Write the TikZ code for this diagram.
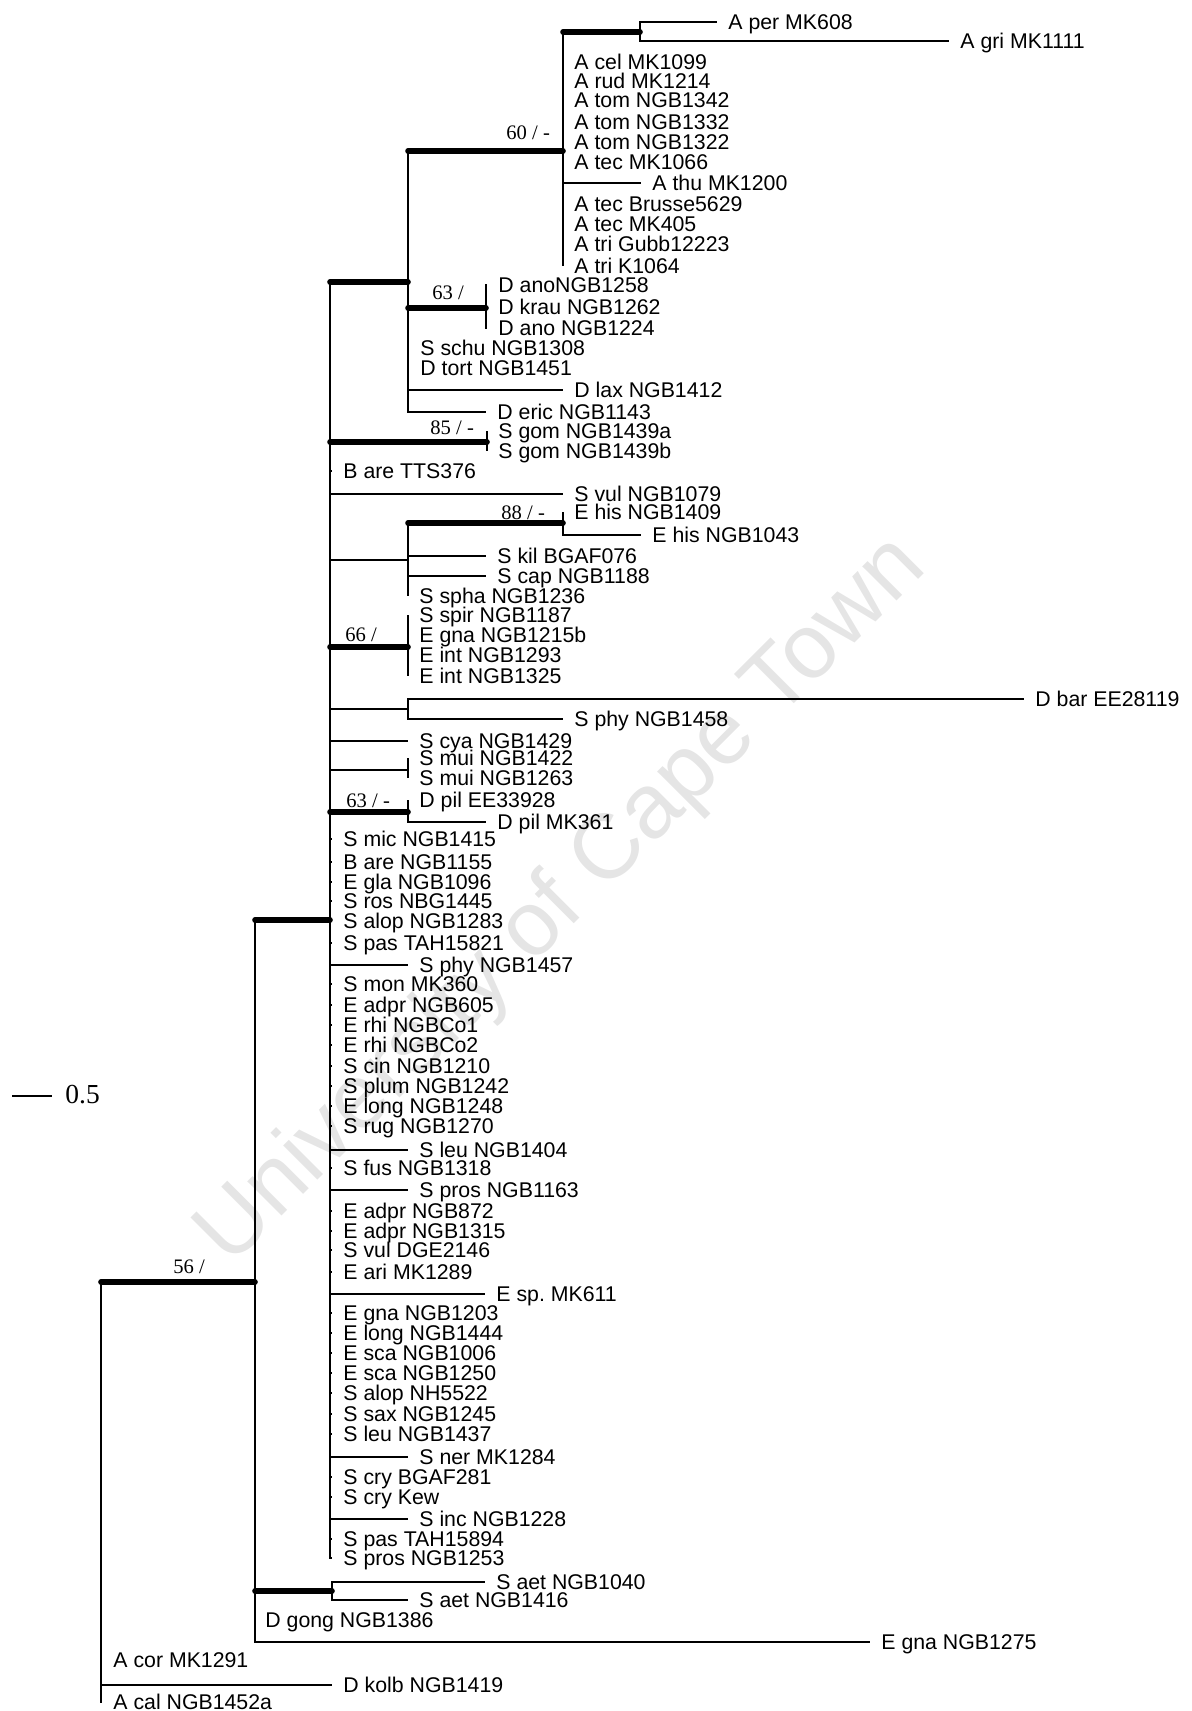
\documentclass[tikz,border=0pt]{standalone}
\usepackage{fontspec}
\setmainfont{Liberation Serif}
\setsansfont{Liberation Sans}
\usetikzlibrary{positioning}

\begin{document}
\begin{tikzpicture}[x=0.5pt,y=-0.5pt,
  br/.style={line width=0.9pt},
  thk/.style={line width=2.8pt,line cap=round},
  tx/.style={font=\sffamily\fontsize{10.65}{12}\selectfont,anchor=west,
    inner xsep=5.5pt,inner ysep=0pt,text height=7.6pt,text depth=0pt},
  bs/.style={font=\fontsize{10.3}{12}\selectfont,anchor=west,inner sep=0pt,
    text height=7pt,text depth=0pt}]
\useasboundingbox (0,0) rectangle (1191,1711);
\node[font=\sffamily\fontsize{45.8}{50}\selectfont,text=black!10,rotate=45,
  anchor=base west,inner sep=0pt] (wm) at (230,1268) {University of Cape Town};

\coordinate (r) at (101,1282);
\coordinate (n1) at (255,1282);
\coordinate (n2) at (330,920);
\coordinate (n3) at (408,282);
\coordinate (nA) at (563,151);
\coordinate (nper) at (640,32);
\coordinate (nano) at (486,308);
\coordinate (ngom) at (487,442);
\coordinate (n4) at (408,560);
\coordinate (nhis) at (563,523);
\coordinate (n66) at (408,647);
\coordinate (nbar) at (408,709);
\coordinate (nmui) at (408,770);
\coordinate (npil) at (408,812);
\coordinate (naet) at (332,1591);

\node[tx] (aper) at (717,22) {A per MK608};
\node[tx] (agri) at (949,41) {A gri MK1111};
\node[tx] (acel) at (563,62) {A cel MK1099};
\node[tx] (arud) at (563,81) {A rud MK1214};
\node[tx] (atom1) at (563,100) {A tom NGB1342};
\node[tx] (atom2) at (563,122) {A tom NGB1332};
\node[tx] (atom3) at (563,142) {A tom NGB1322};
\node[tx] (atec1) at (563,162) {A tec MK1066};
\node[tx] (athu) at (641,183) {A thu MK1200};
\node[tx] (atec2) at (563,204) {A tec Brusse5629};
\node[tx] (atec3) at (563,224) {A tec MK405};
\node[tx] (atri1) at (563,244) {A tri Gubb12223};
\node[tx] (atri2) at (563,266) {A tri K1064};

\node[tx] (dano1) at (487,285) {D anoNGB1258};
\node[tx] (dkrau) at (487,307) {D krau NGB1262};
\node[tx] (dano2) at (487,328) {D ano NGB1224};
\node[tx] (sschu) at (409,348) {S schu NGB1308};
\node[tx] (dtort) at (409,368) {D tort NGB1451};
\node[tx] (dlax) at (563,390) {D lax NGB1412};
\node[tx] (deric) at (486,412) {D eric NGB1143};
\node[tx] (sgom1) at (487,431) {S gom NGB1439a};
\node[tx] (sgom2) at (487,451) {S gom NGB1439b};

\node[tx] (bare1) at (332,471) {B are TTS376};
\node[tx] (svul1) at (563,494) {S vul NGB1079};
\node[tx] (ehis1) at (563,512) {E his NGB1409};
\node[tx] (ehis2) at (641,535) {E his NGB1043};
\node[tx] (skil) at (486,556) {S kil BGAF076};
\node[tx] (scap) at (486,576) {S cap NGB1188};
\node[tx] (sspha) at (408,596) {S spha NGB1236};
\node[tx] (sspir) at (408,615) {S spir NGB1187};
\node[tx] (egna1) at (408,635) {E gna NGB1215b};
\node[tx] (eint1) at (408,655) {E int NGB1293};
\node[tx] (eint2) at (408,676) {E int NGB1325};
\node[tx] (dbar) at (1024,699) {D bar EE28119};
\node[tx] (sphy1) at (563,719) {S phy NGB1458};
\node[tx] (scya) at (408,741) {S cya NGB1429};
\node[tx] (smui1) at (408,758) {S mui NGB1422};
\node[tx] (smui2) at (408,778) {S mui NGB1263};
\node[tx] (dpil1) at (408,800) {D pil EE33928};
\node[tx] (dpil2) at (486,822) {D pil MK361};
\node[tx] (smic) at (332,839) {S mic NGB1415};
\node[tx] (bare2) at (332,862) {B are NGB1155};
\node[tx] (egla) at (332,882) {E gla NGB1096};
\node[tx] (sros) at (332,901) {S ros NBG1445};
\node[tx] (salop1) at (332,921) {S alop NGB1283};
\node[tx] (spas1) at (332,943) {S pas TAH15821};
\node[tx] (sphy2) at (408,965) {S phy NGB1457};
\node[tx] (smon) at (332,984) {S mon MK360};
\node[tx] (eadpr1) at (332,1005) {E adpr NGB605};
\node[tx] (erhi1) at (332,1025) {E rhi NGBCo1};
\node[tx] (erhi2) at (332,1045) {E rhi NGBCo2};
\node[tx] (scin) at (332,1066) {S cin NGB1210};
\node[tx] (splum) at (332,1086) {S plum NGB1242};
\node[tx] (elong1) at (332,1106) {E long NGB1248};
\node[tx] (srug) at (332,1126) {S rug NGB1270};
\node[tx] (sleu1) at (408,1150) {S leu NGB1404};
\node[tx] (sfus) at (332,1168) {S fus NGB1318};
\node[tx] (spros1) at (408,1190) {S pros NGB1163};
\node[tx] (eadpr2) at (332,1211) {E adpr NGB872};
\node[tx] (eadpr3) at (332,1231) {E adpr NGB1315};
\node[tx] (svul2) at (332,1250) {S vul DGE2146};
\node[tx] (eari) at (332,1272) {E ari MK1289};
\node[tx] (esp) at (485,1294) {E sp.\ MK611};
\node[tx] (egna2) at (332,1313) {E gna NGB1203};
\node[tx] (elong2) at (332,1333) {E long NGB1444};
\node[tx] (esca1) at (332,1353) {E sca NGB1006};
\node[tx] (esca2) at (332,1373) {E sca NGB1250};
\node[tx] (salop2) at (332,1393) {S alop NH5522};
\node[tx] (ssax) at (332,1414) {S sax NGB1245};
\node[tx] (sleu2) at (332,1434) {S leu NGB1437};
\node[tx] (sner) at (408,1457) {S ner MK1284};
\node[tx] (scry1) at (332,1477) {S cry BGAF281};
\node[tx] (scry2) at (332,1497) {S cry Kew};
\node[tx] (sinc) at (408,1519) {S inc NGB1228};
\node[tx] (spas2) at (332,1539) {S pas TAH15894};
\node[tx] (spros2) at (332,1558) {S pros NGB1253};

\node[tx] (saet1) at (485,1582) {S aet NGB1040};
\node[tx] (saet2) at (408,1600) {S aet NGB1416};
\node[tx] (dgong) at (254,1620) {D gong NGB1386};
\node[tx] (egna3) at (870,1642) {E gna NGB1275};
\node[tx] (acor) at (102,1660) {A cor MK1291};
\node[tx] (dkolb) at (332,1685) {D kolb NGB1419};
\node[tx] (acal) at (102,1702) {A cal NGB1452a};

\node[bs] (b60) at (506,133) {60 / -};
\node[bs] (b63a) at (432,293) {63 /};
\node[bs] (b85) at (430,428) {85 / -};
\node[bs] (b88) at (501,512) {88 / -};
\node[bs] (b66) at (345,634) {66 /};
\node[bs] (b63b) at (346,800) {63 / -};
\node[bs] (b56) at (173,1266) {56 /};

\coordinate (s1) at (12,1096);
\coordinate (s2) at (52,1096);
\draw[br] (s1) -- (s2);
\node[font=\fontsize{13.75}{16}\selectfont,anchor=west,inner sep=0pt,
  text height=9.3pt,text depth=0pt] (sc) at (65,1094) {0.5};

\foreach \c in {aper,agri} \draw[br] (nper) |- (\c.west);
\foreach \c in {acel,arud,atom1,atom2,atom3,atec1,athu,atec2,atec3,atri1,atri2}
  \draw[br] (nA) |- (\c.west);
\draw[br] (nA) |- (nper);
\foreach \c in {dano1,dkrau,dano2} \draw[br] (nano) |- (\c.west);
\foreach \c in {sschu,dtort,dlax,deric} \draw[br] (n3) |- (\c.west);
\draw[br] (n3) |- (nA);
\foreach \c in {sgom1,sgom2} \draw[br] (ngom) |- (\c.west);
\foreach \c in {ehis1,ehis2} \draw[br] (nhis) |- (\c.west);
\foreach \c in {skil,scap,sspha} \draw[br] (n4) |- (\c.west);
\draw[br] (n4) |- (nhis);
\foreach \c in {sspir,egna1,eint1,eint2} \draw[br] (n66) |- (\c.west);
\foreach \c in {dbar,sphy1} \draw[br] (nbar) |- (\c.west);
\foreach \c in {smui1,smui2} \draw[br] (nmui) |- (\c.west);
\foreach \c in {dpil1,dpil2} \draw[br] (npil) |- (\c.west);
\foreach \c in {bare1,svul1,scya,smic,bare2,egla,sros,salop1,spas1,sphy2,smon,
  eadpr1,erhi1,erhi2,scin,splum,elong1,srug,sleu1,sfus,spros1,eadpr2,eadpr3,
  svul2,eari,esp,egna2,elong2,esca1,esca2,salop2,ssax,sleu2,sner,scry1,scry2,
  sinc,spas2,spros2}
  \draw[br] (n2) |- (\c.west);
\foreach \c in {n3,ngom,n4,n66,nbar,nmui,npil} \draw[br] (n2) |- (\c);
\foreach \c in {saet1,saet2} \draw[br] (naet) |- (\c.west);
\foreach \c in {dgong,egna3} \draw[br] (n1) |- (\c.west);
\draw[br] (n1) |- (n2) (n1) |- (naet);
\foreach \c in {acor,dkolb,acal} \draw[br] (r) |- (\c.west);

\draw[thk] (r) -- (n1);
\draw[thk] (n1 |- n2) -- (n2);
\draw[thk] (n1 |- naet) -- (naet);
\draw[thk] (n2 |- n3) -- (n3);
\draw[thk] (n3 |- nA) -- (nA);
\draw[thk] (nA |- nper) -- (nper);
\draw[thk] (n3 |- nano) -- (nano);
\draw[thk] (n2 |- ngom) -- (ngom);
\draw[thk] (n4 |- nhis) -- (nhis);
\draw[thk] (n2 |- n66) -- (n66);
\draw[thk] (n2 |- npil) -- (npil);
\end{tikzpicture}
\end{document}
